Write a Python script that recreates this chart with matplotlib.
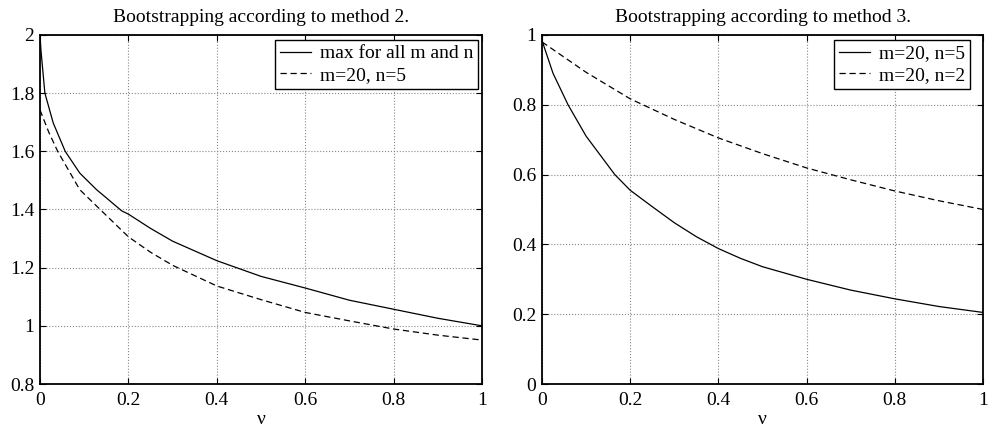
import matplotlib
matplotlib.use('Agg')
import matplotlib.pyplot as plt

plt.rcParams['font.family'] = ['Liberation Serif', 'DejaVu Serif']
plt.rcParams['font.size'] = 14

# values
nu_left = [0, 0.002, 0.011, 0.03, 0.057, 0.09, 0.128, 0.15, 0.185, 0.2, 0.25, 0.3, 0.4, 0.5, 0.6, 0.7, 0.8, 0.9, 1.0]
max_all = [2.0, 1.95, 1.80, 1.697, 1.60, 1.525, 1.468, 1.44, 1.395, 1.384, 1.335, 1.291, 1.224, 1.170, 1.130, 1.088, 1.057, 1.026, 1.0]
nu_left_d = [0, 0.02, 0.04, 0.09, 0.136, 0.2, 0.25, 0.3, 0.4, 0.5, 0.6, 0.7, 0.8, 0.9, 1.0]
m20_n5_left = [1.742, 1.665, 1.60, 1.468, 1.40, 1.306, 1.253, 1.208, 1.137, 1.090, 1.046, 1.017, 0.989, 0.968, 0.951]

nu_right = [0, 0.025, 0.059, 0.1, 0.165, 0.2, 0.25, 0.3, 0.35, 0.4, 0.45, 0.5, 0.6, 0.7, 0.8, 0.9, 1.0]
m20_n5_right = [0.984, 0.89, 0.80, 0.71, 0.60, 0.555, 0.508, 0.462, 0.422, 0.388, 0.36, 0.336, 0.30, 0.269, 0.244, 0.222, 0.205]
nu_right_d = [0, 0.1, 0.2, 0.3, 0.4, 0.5, 0.6, 0.7, 0.8, 0.9, 1.0]
m20_n2_right = [0.98, 0.893, 0.817, 0.758, 0.705, 0.66, 0.619, 0.585, 0.553, 0.525, 0.50]

x_ticks = [0, 0.2, 0.4, 0.6, 0.8, 1]
x_labels = ['0', '0.2', '0.4', '0.6', '0.8', '1']
y_ticks_left = [0.8, 1, 1.2, 1.4, 1.6, 1.8, 2]
y_labels_left = ['0.8', '1', '1.2', '1.4', '1.6', '1.8', '2']
y_ticks_right = [0, 0.2, 0.4, 0.6, 0.8, 1]
y_labels_right = ['0', '0.2', '0.4', '0.6', '0.8', '1']

fig = plt.figure(figsize=(9.88, 4.28), dpi=100)
ax1 = fig.add_axes([0.0405, 0.1028, 0.4474, 0.8155])
ax2 = fig.add_axes([0.5486, 0.1028, 0.4464, 0.8155])


def style(ax, yticks, ylabels, ylim):
    ax.set_xlim(0, 1)
    ax.set_ylim(*ylim)
    ax.set_xticks(x_ticks)
    ax.set_xticklabels(x_labels)
    ax.set_yticks(yticks)
    ax.set_yticklabels(ylabels)
    ax.tick_params(direction='in', top=True, right=True, length=4, width=0.8, pad=4, labelsize=14)
    ax.tick_params(axis='x', pad=6)
    ax.grid(True, linestyle=':', color='#888888', linewidth=0.8)
    for s in ax.spines.values():
        s.set_linewidth(1.3)
    ax.set_xlabel('ν', fontsize=14, labelpad=1)


ax1.plot(nu_left, max_all, 'k-', linewidth=0.9, label='max for all m and n')
ax1.plot(nu_left_d, m20_n5_left, 'k--', linewidth=0.9, dashes=(5, 3), label='m=20, n=5')
style(ax1, y_ticks_left, y_labels_left, (0.8, 2))
ax1.set_title('Bootstrapping according to method 2.', fontsize=14, pad=9)

ax2.plot(nu_right, m20_n5_right, 'k-', linewidth=0.9, label='m=20, n=5')
ax2.plot(nu_right_d, m20_n2_right, 'k--', linewidth=0.9, dashes=(5, 3), label='m=20, n=2')
style(ax2, y_ticks_right, y_labels_right, (0, 1))
ax2.set_title('Bootstrapping according to method 3.', fontsize=14, pad=9)

for ax, anchor in ((ax1, (1 - 4 / 442, 1 - 5 / 349)), (ax2, (1 - 13 / 441, 1 - 5 / 349))):
    leg = ax.legend(loc='upper right', bbox_to_anchor=anchor, borderaxespad=0, fontsize=14,
                    fancybox=False, framealpha=1, edgecolor='black', handlelength=1.6,
                    borderpad=0.25, labelspacing=0.2, handletextpad=0.45)
    leg.get_frame().set_linewidth(1.0)

fig.savefig('out.png', dpi=100)
